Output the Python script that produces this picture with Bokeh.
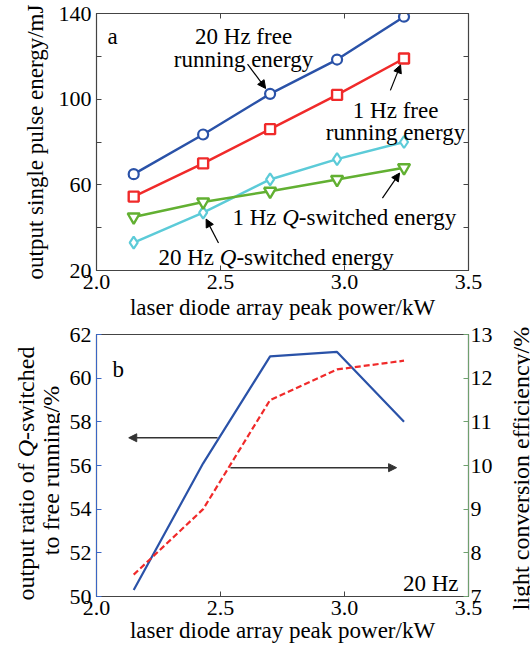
import math
from bokeh.plotting import figure
from bokeh.layouts import column, row
from bokeh.models import Range1d, LinearAxis, FixedTicker, Label, Arrow, NormalHead
from bokeh.embed import file_html
from bokeh.resources import INLINE

# ---------------- data ----------------
power_kw = [2.15, 2.43, 2.70, 2.97, 3.24]
free_running_20hz = [65, 83.5, 102.5, 118.5, 138.5]
free_running_1hz = [54.5, 70, 86, 102, 119]
q_switched_20hz = [33, 47, 62.5, 72, 80]
q_switched_1hz = [45, 52, 57, 62.5, 68]
ratio_q_to_free_20hz = [50.3, 56.1, 61.0, 61.2, 58.0]
light_conversion_eff = [7.5, 9.0, 11.5, 12.2, 12.4]

x_ticks = [2.0, 2.5, 3.0, 3.5]
x_tick_labels = ["2.0", "2.5", "3.0", "3.5"]
energy_ticks = [20, 60, 100, 140]
energy_minor_ticks = [40, 80, 120]
ratio_ticks = [50, 52, 54, 56, 58, 60, 62]
eff_ticks = [7, 8, 9, 10, 11, 12, 13]

SERIF = "Liberation Serif"
TICK_FS = "22px"
LAB_FS = "23px"

BLUE = "#2a52a8"
RED = "#f02a2a"
CYAN = "#5ccbd8"
GREEN = "#62b032"
AX_BLUE = "#3a66c4"
AX_GREEN = "#6fa06f"


def style_axis(ax, color="#444444"):
    ax.axis_line_color = color
    ax.major_tick_line_color = color
    ax.minor_tick_line_color = color
    ax.major_tick_in = 5
    ax.major_tick_out = 0
    ax.minor_tick_in = 5
    ax.minor_tick_out = 0
    ax.major_label_text_font = SERIF
    ax.major_label_text_font_size = TICK_FS
    ax.major_label_text_color = "black"
    ax.axis_label_text_font = SERIF
    ax.axis_label_text_font_size = LAB_FS
    ax.axis_label_text_font_style = "normal"
    ax.axis_label_text_color = "black"


def mirror_axis(p, ticker, ticks, place):
    ax = LinearAxis(ticker=ticker)
    style_axis(ax)
    ax.major_label_overrides = {t: "" for t in ticks}
    ax.major_label_text_font_size = "1px"
    ax.major_label_standoff = 0
    p.add_layout(ax, place)


def label(p, text, x, y, units="data", angle=0.0, align="left", size=LAB_FS,
          style="normal", x_offset=0, color="black"):
    p.add_layout(Label(x=x, y=y, x_units=units, y_units=units, text=text,
                       angle=angle, text_align=align, text_baseline="alphabetic",
                       text_font=SERIF, text_font_size=size, text_font_style=style,
                       text_color=color, x_offset=x_offset))


def arrow(p, xs, ys, xe, ye, color="black", width=1.2):
    p.add_layout(Arrow(end=NormalHead(size=8, fill_color=color, line_color=color),
                       x_start=xs, y_start=ys, x_end=xe, y_end=ye,
                       line_color=color, line_width=width))


def text_canvas(width, height):
    c = figure(width=width, height=height, x_range=Range1d(0, width), y_range=Range1d(0, height),
               x_axis_type=None, y_axis_type=None, output_backend="svg", toolbar_location=None,
               min_border=0, min_border_left=0, min_border_right=0, min_border_top=0,
               min_border_bottom=0)
    if "frame_align" in c.properties():
        c.frame_align = False
    c.grid.visible = False
    c.outline_line_color = None
    return c


# ---------------- panel a ----------------
p1 = figure(width=530, height=322, x_range=Range1d(2.0, 3.5), y_range=Range1d(20, 140),
            output_backend="svg", toolbar_location=None,
            min_border_left=96, min_border_right=62, min_border_top=13, min_border_bottom=46)
p1.grid.visible = False
p1.outline_line_color = "#444444"
p1.outline_line_width = 1.2
style_axis(p1.xaxis[0])
style_axis(p1.yaxis[0])
p1.xaxis.ticker = FixedTicker(ticks=x_ticks)
p1.xaxis.major_label_overrides = dict(zip(x_ticks, x_tick_labels))
p1.xaxis.major_label_standoff = 4
p1.xaxis.axis_label = "laser diode array peak power/kW"
p1.xaxis.axis_label_standoff = 3
p1.yaxis.ticker = FixedTicker(ticks=energy_ticks, minor_ticks=energy_minor_ticks)
p1.yaxis.major_label_standoff = 5
p1.yaxis.axis_label = "output single pulse energy/mJ"
p1.yaxis.axis_label_standoff = 8
mirror_axis(p1, FixedTicker(ticks=energy_ticks, minor_ticks=energy_minor_ticks), energy_ticks, "right")
mirror_axis(p1, FixedTicker(ticks=x_ticks), x_ticks, "above")

p1.line(power_kw, free_running_20hz, line_color=BLUE, line_width=2.5)
p1.scatter(power_kw, free_running_20hz, marker="circle", size=10, fill_color="white",
           line_color=BLUE, line_width=2.2)
p1.line(power_kw, free_running_1hz, line_color=RED, line_width=2.5)
p1.scatter(power_kw, free_running_1hz, marker="square", size=10, fill_color="white",
           line_color=RED, line_width=2.4)
p1.line(power_kw, q_switched_20hz, line_color=CYAN, line_width=2.5)
p1.scatter(power_kw, q_switched_20hz, marker="diamond", size=12, fill_color="white",
           line_color=CYAN, line_width=2.2)
p1.line(power_kw, q_switched_1hz, line_color=GREEN, line_width=2.5)
p1.scatter(power_kw, q_switched_1hz, marker="inverted_triangle", size=12, fill_color="white",
           line_color=GREEN, line_width=2.4)

label(p1, "a", 2.044, 129.2)
label(p1, "20 Hz free", 2.593, 129.2, align="center")
label(p1, "running energy", 2.593, 118.7, align="center")
arrow(p1, 2.609, 116.4, 2.682, 105.0)
label(p1, "1 Hz free", 3.206, 94.9, align="center")
label(p1, "running energy", 3.206, 84.4, align="center")
arrow(p1, 3.185, 104.1, 3.226, 116.0)
# shifted a little to the left so it stays inside the plot frame
label(p1, "1 Hz ", 2.548, 44.7)
label(p1, "Q", 2.548, 44.7, style="italic", x_offset=49.8)
label(p1, "-switched energy", 2.548, 44.7, x_offset=66.4)
arrow(p1, 3.153, 53.8, 3.222, 65.5)
label(p1, "20 Hz ", 2.25, 26.0)
label(p1, "Q", 2.25, 26.0, style="italic", x_offset=61.3)
label(p1, "-switched energy", 2.25, 26.0, x_offset=77.9)
arrow(p1, 2.492, 32.8, 2.442, 44.0)

# ---------------- panel b ----------------
ROW_H = 329
p2 = figure(width=436, height=ROW_H, x_range=Range1d(2.0, 3.5), y_range=Range1d(50, 62),
            output_backend="svg", toolbar_location=None,
            min_border_left=36, min_border_right=28, min_border_top=12, min_border_bottom=55)
p2.grid.visible = False
p2.outline_line_color = "#444444"
p2.outline_line_width = 1.2
p2.extra_y_ranges = {"eff": Range1d(7, 13)}
style_axis(p2.xaxis[0])
style_axis(p2.yaxis[0], color=AX_BLUE)
p2.xaxis.ticker = FixedTicker(ticks=x_ticks)
p2.xaxis.major_label_overrides = dict(zip(x_ticks, x_tick_labels))
p2.xaxis.major_label_standoff = 4
p2.xaxis.axis_label = "laser diode array peak power/kW"
p2.xaxis.axis_label_standoff = 0
p2.yaxis.ticker = FixedTicker(ticks=ratio_ticks)
p2.yaxis.major_label_standoff = 5
right_axis = LinearAxis(y_range_name="eff", ticker=FixedTicker(ticks=eff_ticks))
style_axis(right_axis, color=AX_GREEN)
right_axis.major_label_standoff = 2
p2.add_layout(right_axis, "right")

p2.line(power_kw, ratio_q_to_free_20hz, line_color=BLUE, line_width=2.2)
p2.line(power_kw, light_conversion_eff, y_range_name="eff", line_color=RED,
        line_width=2.2, line_dash="6 3")

arrow(p2, 2.488, 57.27, 2.13, 57.27, color="#333333", width=1.5)
arrow(p2, 2.54, 55.9, 3.21, 55.9, color="#333333", width=1.5)
label(p2, "b", 2.065, 60.4)
label(p2, "20 Hz", 3.46, 50.6, align="right")

# left title of panel b (two lines, italic Q) on a text-only canvas
# (coordinates in pixels from the canvas' bottom-left corner)
left_title = text_canvas(60, ROW_H)
label(left_title, "output ratio of ", 25, 51, angle=math.pi / 2, size="24px")
label(left_title, "Q", 25, 51 + 143.3, angle=math.pi / 2, size="24px", style="italic")
label(left_title, "-switched", 25, 51 + 160.6, angle=math.pi / 2, size="24px")
label(left_title, "to free running/%", 50, 181, angle=math.pi / 2, size="24px", align="center")

# right title of panel b
right_title = text_canvas(34, ROW_H)
label(right_title, "light conversion efficiency/%", 24, 183, angle=math.pi / 2, size="24px",
      align="center")

layout = column(p1, row(left_title, p2, right_title))
open("out.html", "w").write(file_html(layout, INLINE))
